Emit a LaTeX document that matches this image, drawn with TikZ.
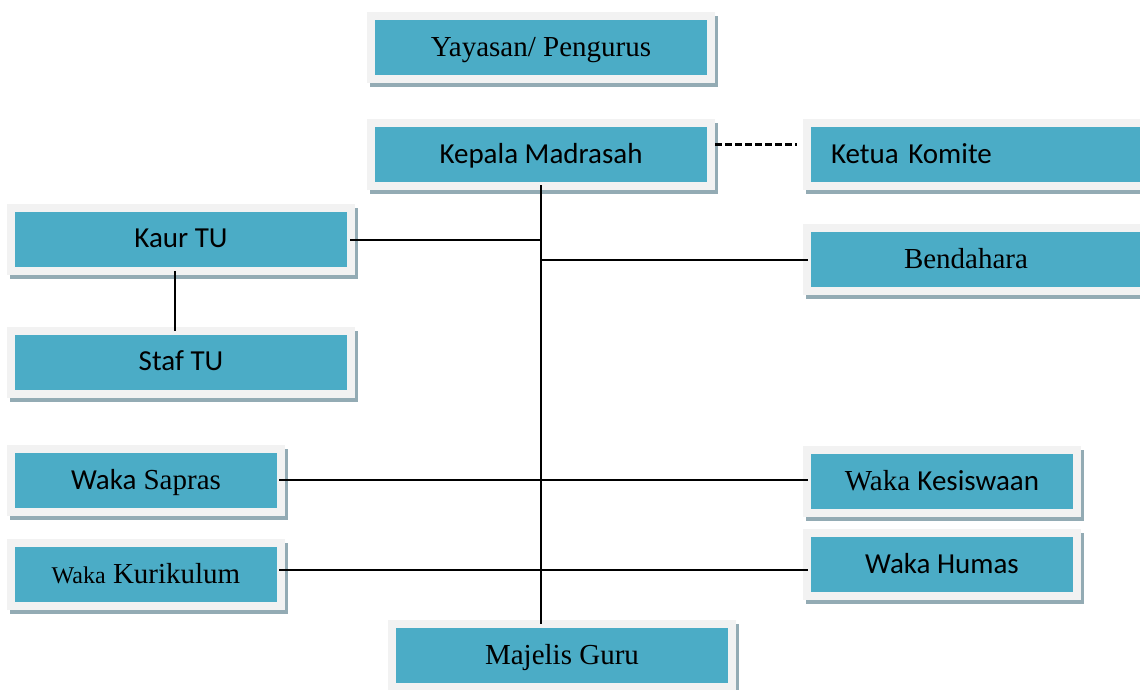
\documentclass[tikz,border=0pt]{standalone}
\usepackage{fontspec}
\setmainfont{Liberation Serif}
\setsansfont{Carlito}
\usetikzlibrary{calc}

\definecolor{tealbox}{HTML}{4BACC6}
\definecolor{boxframe}{HTML}{F2F2F2}
\definecolor{boxshadow}{HTML}{93ABB4}

\tikzset{
	orgbox/.style={fill=tealbox, minimum height=55pt, inner sep=0pt, outer sep=0pt,
		preaction={draw=boxshadow, line width=16pt, transform canvas={shift={(3pt,-4pt)}}},
		preaction={draw=boxframe, line width=16pt}},
	serifbox/.style={orgbox, font=\rmfamily\fontsize{29}{33}\selectfont, text depth=2pt},
	sansbox/.style={orgbox, font=\sffamily\fontsize{29}{33}\selectfont, text depth=2pt},
	link/.style={line width=2pt},
}

\begin{document}
\begin{tikzpicture}[x=1pt,y=-1pt]
			\useasboundingbox (0,0) rectangle (1140,690);
			\clip (0,0) rectangle (1140,690);
			
			% top
			\node[serifbox, minimum width=332pt] (yayasan) at (541,48) {Yayasan/ Pengurus};
			\node[sansbox, minimum width=332pt] (kepala) at (541,154.5) {Kepala Madrasah};
			\node[sansbox, text width=309pt, align=left, inner xsep=20pt] (komite) at (985.5,154.5) {Ketua Komite};
			
			% left side
			\node[sansbox, minimum width=332pt] (kaur) at (181,239.5) {Kaur TU};
			\node[sansbox, minimum width=332pt] (staf) at (181,362) {Staf TU};
			\node[serifbox, minimum width=262pt] (sapras) at (146,480) {{\sffamily Waka} Sapras};
			\node[serifbox, minimum width=262pt] (kurikulum) at (146,574.5) {{\fontsize{24}{28}\selectfont Waka} Kurikulum};
			
			% right side
			\node[serifbox, text width=163pt, align=left, inner xsep=93pt] (bendahara) at (985.5,259.5) {Bendahara};
			\node[serifbox, minimum width=262pt] (kesiswaan) at (942,481) {Waka {\sffamily Kesiswaan}};
			\node[sansbox, minimum width=262pt] (humas) at (942,564) {Waka Humas};
			
			% bottom
			\node[serifbox, minimum width=332pt] (majelis) at (562,655.5) {Majelis Guru};
			
			% connectors
			\draw[link, shorten <=3pt, shorten >=4pt] (kepala.south) -- (kepala.south |- majelis.north);
			\draw[link, shorten <=3pt] (kaur.east) -- (kaur.east -| kepala.south);
			\draw[link, shorten <=4pt, shorten >=4pt] ([xshift=-6pt]kaur.south) -- ([xshift=-6pt]staf.north);
			\draw[link, shorten >=3pt] (bendahara.west -| kepala.south) -- (bendahara.west);
			\draw[link, shorten <=2pt, shorten >=3pt] (sapras.east) -- (sapras.east -| kesiswaan.west);
			\draw[link, shorten <=2pt, shorten >=3pt] ([yshift=5pt]kurikulum.east) -- ([yshift=5pt]kurikulum.east -| humas.west);
			\draw[line width=3pt, dash pattern=on 7pt off 3pt] ([xshift=8pt,yshift=10pt]kepala.east) -- ([xshift=-14pt,yshift=10pt]kepala.east -| komite.west);
		\end{tikzpicture}
\end{document}
